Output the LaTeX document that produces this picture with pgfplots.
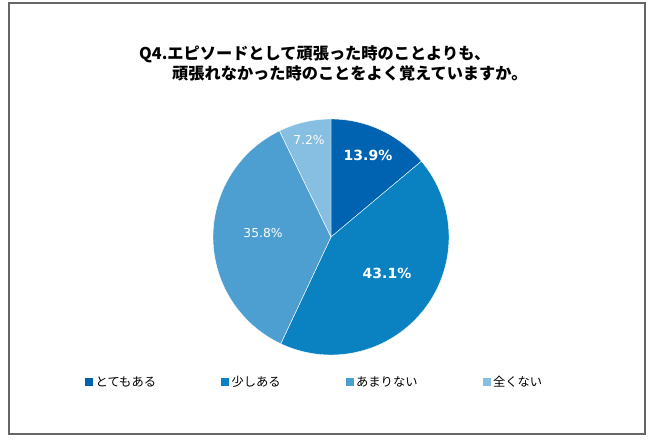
\documentclass[border=0pt]{standalone}
\usepackage{pgfplots}
\pgfplotsset{compat=1.18}
\usepackage{fontspec}
\setmainfont{Noto Sans CJK JP}
\newfontfamily\numfont{DejaVu Sans}
\definecolor{c1}{HTML}{0063B1}
\definecolor{c2}{HTML}{0A82C2}
\definecolor{c3}{HTML}{4D9FD1}
\definecolor{c4}{HTML}{86BFE1}
% data (percent)
\def\va{13.9}\def\vb{43.1}\def\vc{35.8}\def\vd{7.2}
\pgfmathsetmacro\aA{90}
\pgfmathsetmacro\aB{\aA-3.6*\va}
\pgfmathsetmacro\aC{\aB-3.6*\vb}
\pgfmathsetmacro\aD{\aC-3.6*\vc}
\pgfmathsetmacro\aE{\aD-3.6*\vd}
\def\cx{331}\def\cy{206}\def\rr{118}
\begin{document}
\begin{tikzpicture}
\begin{axis}[
  hide axis, scale only axis, clip=false,
  width=650pt, height=443pt,
  xmin=0, xmax=650, ymin=0, ymax=443,
  legend columns=4,
  legend style={draw=none, fill=none, at={(axis cs:84,61)}, anchor=west,
    font=\fontsize{12.3}{14}\selectfont, inner sep=0pt,
    /tikz/every even column/.append style={column sep=62pt}},
  legend image code/.code={\fill[#1] (0pt,-4.5pt) rectangle (9pt,4.5pt);},
  variable=\t, samples=80,
]
\path (axis cs:0,0) rectangle (axis cs:650,443);
\draw[gray!80!black, line width=1.3pt] (axis cs:9,9) rectangle (axis cs:645,440);
\addplot[fill=c1, draw=white, line width=0.4pt, domain=\aB:\aA]
  ({\cx+\rr*cos(\t)},{\cy+\rr*sin(\t)}) -- (axis cs:\cx,\cy) -- cycle;
\addlegendentry{とてもある}
\addplot[fill=c2, draw=white, line width=0.4pt, domain=\aC:\aB]
  ({\cx+\rr*cos(\t)},{\cy+\rr*sin(\t)}) -- (axis cs:\cx,\cy) -- cycle;
\addlegendentry{少しある}
\addplot[fill=c3, draw=white, line width=0.4pt, domain=\aD:\aC]
  ({\cx+\rr*cos(\t)},{\cy+\rr*sin(\t)}) -- (axis cs:\cx,\cy) -- cycle;
\addlegendentry{あまりない}
\addplot[fill=c4, draw=white, line width=0.4pt, domain=\aE:\aD]
  ({\cx+\rr*cos(\t)},{\cy+\rr*sin(\t)}) -- (axis cs:\cx,\cy) -- cycle;
\addlegendentry{全くない}
% value labels
\node[text=white, font=\numfont\bfseries\fontsize{14}{16}\selectfont] at (axis cs:368,288) {13.9\%};
\node[text=white, font=\numfont\bfseries\fontsize{14}{16}\selectfont] at (axis cs:387,170) {43.1\%};
\node[text=white, font=\numfont\fontsize{12.3}{14}\selectfont] at (axis cs:263,210) {35.8\%};
\node[text=white, font=\numfont\fontsize{12.3}{14}\selectfont] at (axis cs:309,303) {7.2\%};
% title
\node[anchor=west, inner sep=0pt, font=\bfseries\fontsize{16.2}{18}\selectfont] at (axis cs:139,389) {Q4.エピソードとして頑張った時のことよりも、};
\node[anchor=west, inner sep=0pt, font=\bfseries\fontsize{16.2}{18}\selectfont] at (axis cs:172,370) {頑張れなかった時のことをよく覚えていますか。};
\end{axis}
\end{tikzpicture}
\end{document}
